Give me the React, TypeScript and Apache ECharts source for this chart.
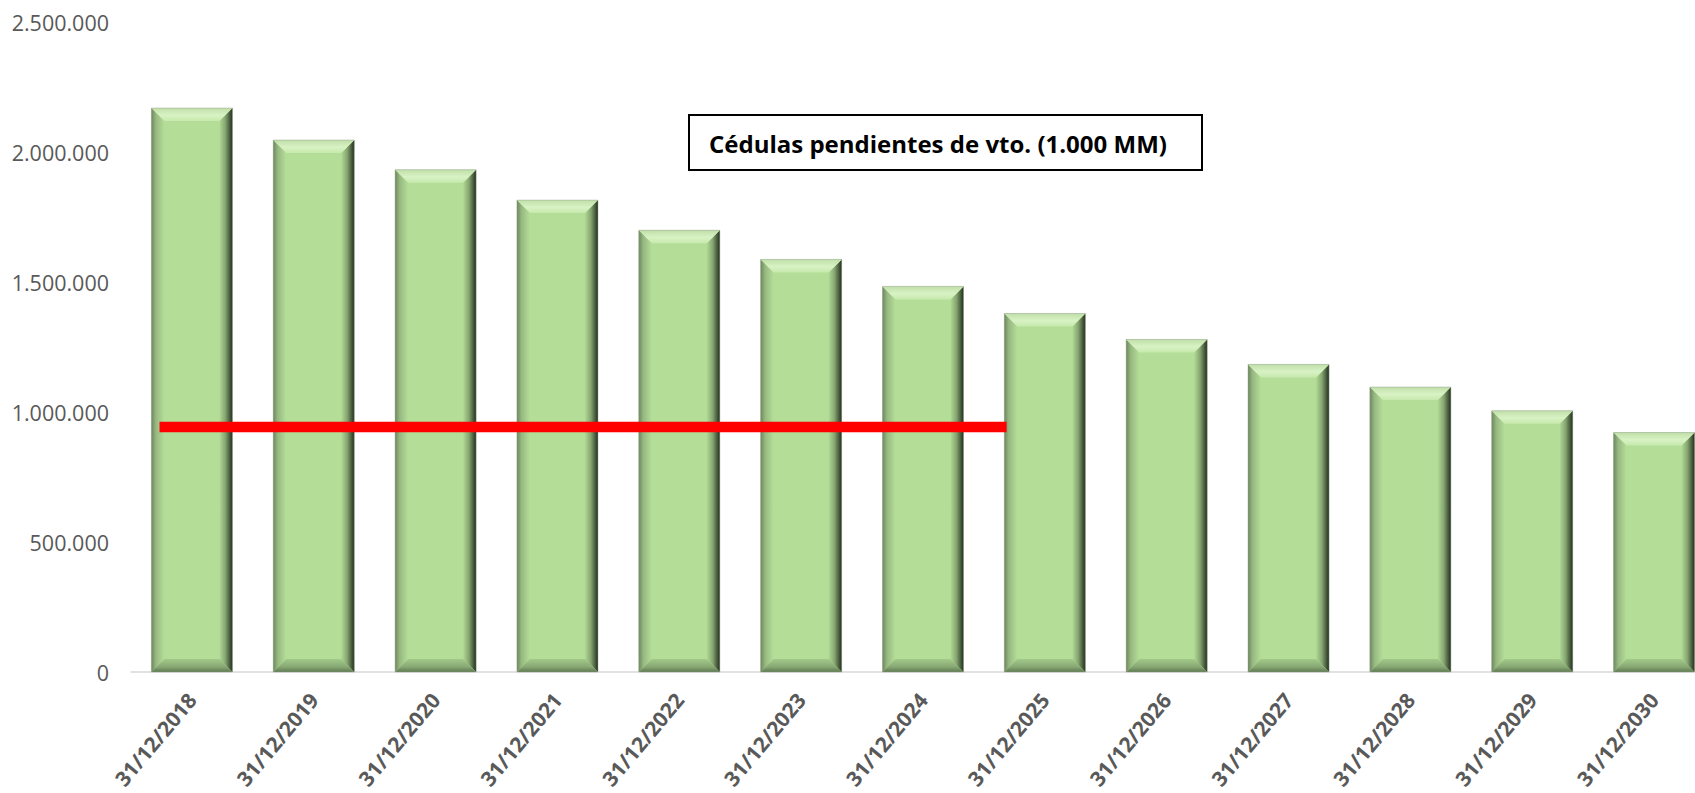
import React, { useEffect, useRef } from "react";
import * as echarts from "echarts";

const categories = [
  "31/12/2018", "31/12/2019", "31/12/2020", "31/12/2021", "31/12/2022",
  "31/12/2023", "31/12/2024", "31/12/2025", "31/12/2026", "31/12/2027",
  "31/12/2028", "31/12/2029", "31/12/2030",
];
const pendingValues = [
  2169000, 2046000, 1932000, 1815000, 1699000, 1587000, 1483000,
  1379000, 1279000, 1183000, 1096000, 1005000, 921000,
];
const redLineValue = 942000;
const redLineFromIndex = 0;
const redLineToIndex = 7;
const yTicks = { min: 0, max: 2500000, interval: 500000 };
const titleText = "Cédulas pendientes de vto. (1.000 MM)";

const BAR_FRACTION = 0.665;

function fmt(v: number): string {
  return String(Math.round(v)).replace(/\B(?=(\d{3})+(?!\d))/g, ".");
}

export default function App() {
  const ref = useRef<HTMLDivElement>(null);
  useEffect(() => {
    if (!ref.current) return;
    const chart = echarts.init(ref.current, null, { renderer: "svg" });
    const lg = (x1: number, y1: number, x2: number, y2: number, stops: [number, string][]) =>
      new echarts.graphic.LinearGradient(x1, y1, x2, y2, stops.map(([offset, color]) => ({ offset, color })));

    const option: any = {
      animation: false,
      backgroundColor: "#ffffff",
      grid: {
        left: 131,
        top: 22,
        width: 1584,
        height: 650,
        containLabel: false,
        outerBoundsMode: "none",
      },
      xAxis: {
        type: "category",
        data: categories,
        axisLine: { show: true, lineStyle: { color: "#d9d9d9", width: 1.5 } },
        axisTick: { show: false },
        axisLabel: {
          rotate: 50,
          margin: 24,
          color: "#595959",
          fontFamily: "Open Sans",
          fontWeight: "bold",
          fontSize: 21,
          interval: 0,
        },
      },
      yAxis: {
        type: "value",
        min: yTicks.min,
        max: yTicks.max,
        interval: yTicks.interval,
        axisLine: { show: false },
        axisTick: { show: false },
        splitLine: { show: false },
        axisLabel: {
          margin: 22,
          color: "#595959",
          fontFamily: "Open Sans",
          fontSize: 21.5,
          formatter: (v: number) => fmt(v),
        },
      },
      series: [
        {
          type: "bar",
          data: pendingValues,
          barCategoryGap: "33.5%",
          itemStyle: { color: "#b4de98" },
          z: 2,
        },
        {
          type: "custom",
          z: 3,
          data: pendingValues.map((v, i) => [i, v]),
          renderItem: (params: any, api: any) => {
            const i = api.value(0);
            const v = api.value(1);
            const top = api.coord([i, v]);
            const bot = api.coord([i, 0]);
            const bw = api.size([1, 0])[0] * BAR_FRACTION;
            const x0 = top[0] - bw / 2;
            const x1 = top[0] + bw / 2;
            const yT = top[1];
            const yB = bot[1];
            const b = 13;
            return {
              type: "group",
              children: [
                {
                  type: "polygon",
                  shape: { points: [[x0, yT], [x0 + b, yT + b], [x0 + b, yB - b], [x0, yB]] },
                  style: { fill: lg(0, 0, 1, 0, [[0, "#6c875e"], [0.35, "#97b881"], [1, "#b4de98"]]) },
                },
                {
                  type: "polygon",
                  shape: { points: [[x1, yT], [x1, yB], [x1 - b, yB - b], [x1 - b, yT + b]] },
                  style: { fill: lg(0, 0, 1, 0, [[0, "#b0d994"], [0.45, "#86a571"], [0.8, "#465a3c"], [1, "#252f20"]]) },
                },
                {
                  type: "polygon",
                  shape: { points: [[x0, yB], [x0 + b, yB - b], [x1 - b, yB - b], [x1, yB]] },
                  style: { fill: lg(0, 0, 0, 1, [[0, "#a3c98a"], [0.6, "#87a873"], [1, "#5f7a52"]]) },
                },
                {
                  type: "polygon",
                  shape: { points: [[x0, yT], [x1, yT], [x1 - b, yT + b], [x0 + b, yT + b]] },
                  style: { fill: lg(0, 0, 0, 1, [[0, "#c0dfa8"], [0.55, "#d8f2c4"], [1, "#c6e9ad"]]) },
                },
                {
                  type: "rect",
                  shape: { x: x0, y: yT, width: bw, height: yB - yT },
                  style: { fill: "none", stroke: "rgba(150,160,145,0.45)", lineWidth: 1 },
                },
              ],
            };
          },
        },
        {
          type: "custom",
          z: 5,
          data: [[redLineFromIndex, redLineValue, redLineToIndex]],
          renderItem: (params: any, api: any) => {
            const v = api.value(1);
            const start = api.coord([api.value(0), v]);
            const end = api.coord([api.value(2), v]);
            const band = api.size([1, 0])[0];
            return {
              type: "line",
              shape: {
                x1: start[0] - band * 0.266,
                y1: start[1],
                x2: end[0] - band * 0.314,
                y2: end[1],
              },
              style: { stroke: "#ff0000", lineWidth: 10.5, lineCap: "butt" },
            };
          },
        },
      ],
      graphic: [
        {
          type: "group",
          left: 688,
          top: 114,
          children: [
            {
              type: "rect",
              shape: { x: 0, y: 0, width: 513, height: 55 },
              style: { fill: "#ffffff", stroke: "#000000", lineWidth: 2 },
            },
            {
              type: "text",
              x: 20,
              y: 28,
              style: {
                text: titleText,
                fill: "#000000",
                font: "bold 24px 'Open Sans'",
                verticalAlign: "middle",
                align: "left",
              },
            },
          ],
        },
      ],
    };
    chart.setOption(option);
    return () => chart.dispose();
  }, []);

  return (
    <div
      ref={ref}
      style={{ position: "absolute", left: 0, top: 0, width: 1695, height: 793 }}
    />
  );
}
